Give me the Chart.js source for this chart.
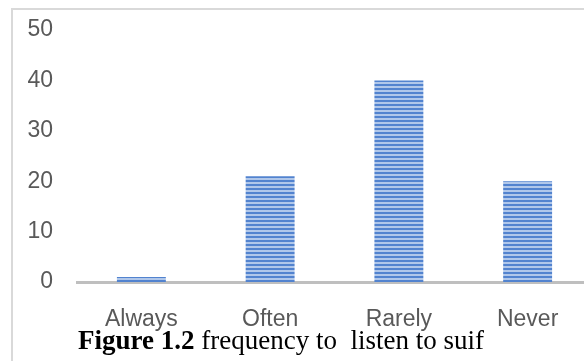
<!DOCTYPE html>
<html>
<head>
<meta charset="utf-8">
<script src="https://cdn.jsdelivr.net/npm/chart.js@4"></script>
<style>
    body { margin: 0; width: 584px; height: 361px; overflow: hidden; background: #fff; position: relative; }
    #wrap { position: absolute; left: 0; top: 0; width: 600px; height: 361px; }
    #frame { position: absolute; left: 11px; top: 8px; width: 600px; height: 400px;
             border-left: 2px solid #d9d9d9; border-top: 2px solid #d9d9d9; pointer-events: none; }
    #caption { position: absolute; left: 78px; top: 327px; font-family: "Liberation Serif", "Times New Roman", serif;
               font-size: 27px; line-height: 27px; color: #000; white-space: pre; }
</style>
</head>
<body>
<div id="frame"></div>
<div id="wrap"><canvas id="freqChart" width="600" height="361"></canvas></div>
<div id="caption"><b>Figure 1.2</b> frequency to  listen to suif</div>
<script>
const categories = ['Always', 'Often', 'Rarely', 'Never'];
const counts = [1, 21, 40, 20];
const yTicks = [0, 10, 20, 30, 40, 50];

// horizontal stripe fill like the excel pattern
function stripePattern() {
    const c = document.createElement('canvas');
    c.width = 4;
    c.height = 4;
    const g = c.getContext('2d');
    g.fillStyle = '#b0c7ea';
    g.fillRect(0, 0, 4, 4);
    g.fillStyle = '#5283cf';
    g.fillRect(0, 0, 4, 2);
    return g.createPattern(c, 'repeat');
}

const ctx = document.querySelector('#freqChart').getContext('2d');
const chart = new Chart(ctx, {
    type: 'bar',
    data: {
        labels: categories,
        datasets: [{
            data: counts,
            backgroundColor: stripePattern(),
            borderWidth: 0,
            categoryPercentage: 1,
            barPercentage: 0.38
        }]
    },
    options: {
        responsive: false,
        animation: false,
        layout: {
            padding: { top: 30, right: 8, bottom: 0, left: 0 }
        },
        scales: {
            x: {
                z: 1,
                grid: { display: false, drawTicks: false },
                border: { display: true, color: '#bfbfbf', width: 3 },
                ticks: {
                    color: '#595959',
                    padding: 24,
                    font: { family: 'Liberation Sans, Arial', size: 23 }
                },
                afterFit: scale => { scale.height = 79; }
            },
            y: {
                min: 0,
                max: 50,
                afterBuildTicks: scale => { scale.ticks = yTicks.map(v => ({ value: v })); },
                grid: { display: false, drawTicks: false },
                border: { display: false },
                ticks: {
                    color: '#595959',
                    padding: 24,
                    font: { family: 'Liberation Sans, Arial', size: 23 }
                },
                afterFit: scale => {
                    scale.width = 77;
                    // let layout padding alone decide where 50 sits
                    scale.paddingTop = 0;
                    scale.paddingBottom = 0;
                }
            }
        },
        plugins: {
            legend: { display: false },
            tooltip: { enabled: false }
        }
    }
});
</script>
</body>
</html>
